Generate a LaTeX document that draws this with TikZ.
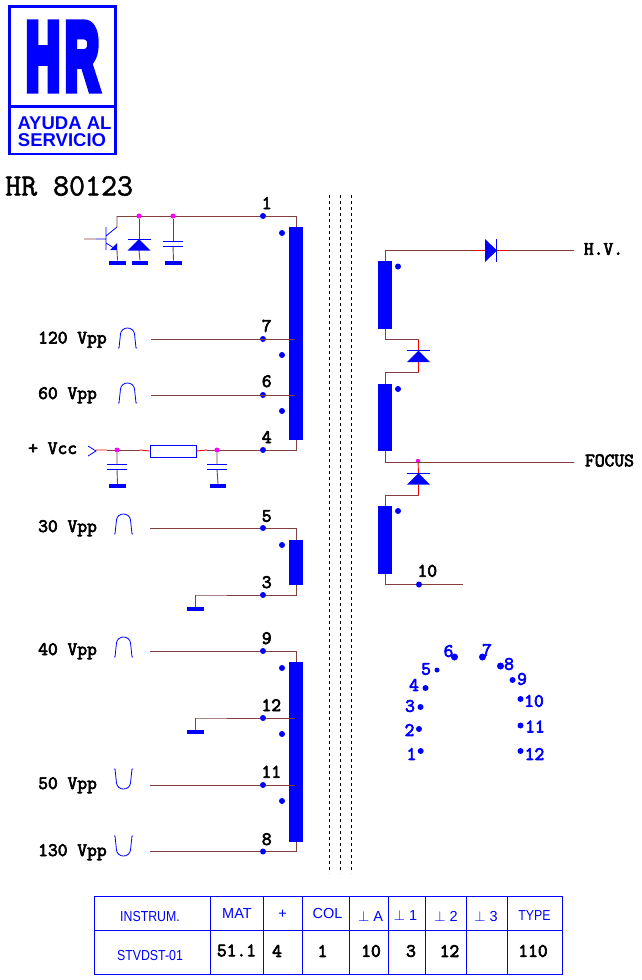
\documentclass[tikz,border=0pt]{standalone}
\usepackage{fontspec}
\setmainfont{Liberation Sans}
\newfontfamily\hrmono{Latin Modern Mono}[FakeBold=3.5]
\newfontfamily\hrtitle{Latin Modern Mono}[FakeBold=1.5]
\newfontfamily\hrlogo{Liberation Sans Bold}[FakeBold=10]
\definecolor{hrblue}{HTML}{0000FF}
\definecolor{hrwire}{HTML}{804040}
\definecolor{hrred}{HTML}{FF0000}
\definecolor{hrmag}{HTML}{FF00FF}
\tikzset{
  wire/.style={draw=hrwire,line width=.9pt},
  redwire/.style={draw=hrred,line width=.9pt},
  symb/.style={draw=hrblue,line width=.8pt},
  coil/.style={fill=hrblue,minimum width=14pt,inner sep=0pt,outer sep=0pt},
  gndbar/.style={fill=hrblue,minimum width=17pt,minimum height=4pt,inner sep=0pt,outer sep=0pt},
  pindot/.style={circle,fill=hrblue,minimum size=6pt,inner sep=0pt,outer sep=0pt},
  phdot/.style={circle,fill=hrblue,minimum size=6pt,inner sep=0pt,outer sep=0pt},
  magdot/.style={circle,fill=hrmag,minimum size=5pt,inner sep=0pt,outer sep=0pt},
  vlabel/.style={anchor=base west,inner sep=0pt,font=\hrmono\fontsize{19}{19}\selectfont},
  pinnum/.style={anchor=base,inner sep=0pt,font=\hrmono\fontsize{19}{19}\selectfont},
  sidetext/.style={inner sep=0pt,font=\hrmono\fontsize{19}{19}\selectfont},
  socknum/.style={inner sep=0pt,text=hrblue,font=\hrmono\fontsize{19}{19}\selectfont},
  headtext/.style={inner sep=0pt,text=hrblue,font=\fontsize{14.5}{14.5}\selectfont},
  valtext/.style={inner sep=0pt,font=\hrmono\fontsize{19}{19}\selectfont},
  tabline/.style={draw=hrblue,line width=1pt},
}
% pulse drawings, #1 is the lower left (up) or upper left (down) corner
\newcommand{\pulseup}[1]{\draw[symb,shift={(#1)}] (0,0)--(1,0)--(2.5,-14) .. controls (3.5,-22) and (15.5,-22) .. (16.5,-14)--(18,0)--(19,0);}
\newcommand{\pulsedown}[1]{\draw[symb,shift={(#1)}] (0,0)--(1,0)--(2.5,14) .. controls (3.5,22) and (15.5,22) .. (16.5,14)--(18,0)--(19,0);}
% capacitor plates round a vertical lead at #1, #2 is the top plate height
\newcommand{\capplates}[2]{\draw[symb] (#1-10,#2)--(#1+10,#2) (#1-10,#2+5)--(#1+10,#2+5);}
% diode pointing up, apex at (#1,#2)
\newcommand{\diodeup}[2]{\fill[hrblue] (#1,#2)--(#1+11.5,#2+11.5)--(#1-11.5,#2+11.5)--cycle;
  \draw[symb] (#1-11.5,#2)--(#1+11.5,#2);}
\begin{document}
\begin{tikzpicture}[x=1pt,y=-1pt]
\useasboundingbox (0,0) rectangle (642,980);
% logo
\draw[hrblue,line width=2.6pt] (9.3,6.3) rectangle (115.7,154);
\draw[hrblue,line width=2.6pt] (9.3,106.5)--(115.7,106.5);
\node[inner sep=0pt,text=hrblue,xscale=.5,font=\hrlogo\fontsize{94}{94}\selectfont] (logohr) at (62.5,56.5) {H\kern 10pt R};
\node[inner sep=0pt,text=hrblue,font=\bfseries\fontsize{18.5}{18.5}\selectfont] (logoa) at (64.5,122.8) {AYUDA AL};
\node[inner sep=0pt,text=hrblue,font=\bfseries\fontsize{18.5}{18.5}\selectfont] (logob) at (62,139.7) {SERVICIO};
\node[anchor=base west,inner sep=0pt,font=\hrtitle\fontsize{31}{31}\selectfont] (title) at (5,195.5) {HR 80123};
% coils
\node[coil,minimum height=213pt] (coilA) at (296,333.5) {};
\node[coil,minimum height=45pt] (coilB) at (296,562.5) {};
\node[coil,minimum height=180pt] (coilC) at (296,752) {};
\node[coil,minimum height=68pt] (coilD) at (385,295) {};
\node[coil,minimum height=67pt] (coilE) at (385,417.5) {};
\node[coil,minimum height=68pt] (coilF) at (385,540) {};
% coil phase dots
\node[pindot] (phA) at (282,233) {};
\node[pindot] (phB) at (282,355) {};
\node[pindot] (phC) at (282,411) {};
\node[pindot] (phD) at (282,545) {};
\node[pindot] (phE) at (282,668) {};
\node[pindot] (phF) at (282,734) {};
\node[pindot] (phG) at (282,801) {};
\node[pindot] (phH) at (398,266.5) {};
\node[pindot] (phI) at (398,389) {};
\node[pindot] (phJ) at (398,511) {};
% pins
\node[pindot] (pone) at (263,216) {};
\node[pindot] (pseven) at (263,339) {};
\node[pindot] (psix) at (263,395) {};
\node[pindot] (pfour) at (263,450) {};
\node[pindot] (pfive) at (263,528) {};
\node[pindot] (pthree) at (263,595) {};
\node[pindot] (pnine) at (263,651) {};
\node[pindot] (ptwelve) at (263,718) {};
\node[pindot] (peleven) at (263,785) {};
\node[pindot] (peight) at (263,851.5) {};
\node[pindot] (pten) at (419,584.5) {};
\node[pinnum] at (266.7,209) {1};
\node[pinnum] at (266.7,331.7) {7};
\node[pinnum] at (266.7,387) {6};
\node[pinnum] at (266.7,443) {4};
\node[pinnum] at (266.7,521.7) {5};
\node[pinnum] at (266.7,588) {3};
\node[pinnum] at (266.7,644) {9};
\node[pinnum] at (271.3,711) {12};
\node[pinnum] at (271.3,777.7) {11};
\node[pinnum] at (266.7,845) {8};
\node[pinnum] at (427.3,576.7) {10};
% left labels and pulses
\node[vlabel] at (38,343.5) {120 Vpp};
\node[vlabel] at (38,399) {60 Vpp};
\node[vlabel] at (28,454) {+ Vcc};
\node[vlabel] at (38,532) {30 Vpp};
\node[vlabel] at (38,655) {40 Vpp};
\node[vlabel] at (38,789) {50 Vpp};
\node[vlabel] at (38,856) {130 Vpp};
\pulseup{118,348}
\pulseup{118,403}
\pulseup{114,534}
\pulseup{114,657}
\pulsedown{114,769}
\pulsedown{114,836}
% free wire ends
\coordinate (inseven) at (151,339);
\coordinate (insix) at (151,395);
\coordinate (infive) at (150,528);
\coordinate (innine) at (150,651);
\coordinate (ineleven) at (150,785);
\coordinate (ineight) at (150,851.5);
\coordinate (gndthree) at (195,595);
\coordinate (gndtwelve) at (195,718);
\node[gndbar] (gthree) at (195.5,608.5) {};
\node[gndbar] (gtwelve) at (195.5,731.5) {};
% primary wires
\draw[wire] (117,216)--(pone)-|(coilA.north);
\draw[wire] (inseven)--(295,339);
\draw[wire] (insix)--(295,395);
\draw[wire] (107,450)--(140,450) (207,450)--(pfour)-|(coilA.south);
\draw[wire] (infive)--(pfive)-|(coilB.north);
\draw[wire] (gthree.north)|-(gndthree)--(pthree)-|(coilB.south);
\draw[wire] (innine)--(pnine)-|(coilC.north);
\draw[wire] (gtwelve.north)|-(gndtwelve)--(ptwelve)--(295,718);
\draw[wire] (ineleven)--(peleven)--(295,785);
\draw[wire] (ineight)--(peight)-|(coilC.south);
% transistor, diode and capacitor on pin 1
\node[magdot] (nodea) at (139,216) {};
\node[magdot] (nodeb) at (173,216) {};
\node[gndbar] (gt) at (117.5,262.5) {};
\node[gndbar,minimum width=16pt] (gd) at (140,262.5) {};
\node[gndbar] (gc) at (173.5,262.5) {};
\draw[wire] (84,239)--(96,239) (117,216)--(117,227) (117,250)--(gt.north);
\draw[symb] (96,239)--(106,239) (106,227)--(106,250) (106,236)--(117,227) (106,243)--(117,250);
\fill[hrblue] (117,243)--(117,250)--(110,250)--cycle;
\draw[redwire] (nodea)--(139,239);
\draw[wire] (139,250)--(gd.north);
\diodeup{139}{239}
\draw[redwire] (nodeb)--(173,241);
\draw[wire] (173,246)--(gc.north);
\capplates{173}{241}
% vcc branch
\node[draw=hrblue,line width=.9pt,fill=white,minimum width=46pt,minimum height=12pt,inner sep=0pt] (res) at (173,451) {};
\node[magdot] (nodec) at (117,450) {};
\node[magdot] (noded) at (217,450) {};
\node[gndbar] (gva) at (117.5,486) {};
\node[gndbar,minimum width=16pt] (gvb) at (218,486) {};
\draw[redwire] (96,450)--(107,450) (140,450)--(res.west) (res.east)--(207,450);
\draw[symb] (88,446)--(96,451)--(88,456);
\draw[wire] (nodec)--(117,464) (117,469)--(gva.north);
\draw[wire] (noded)--(217,464) (217,469)--(gvb.north);
\capplates{117}{464}
\capplates{217}{464}
% screens
\draw[black,line width=.8pt,dash pattern=on 3pt off 3pt] (329.5,195)--(329.5,873);
\draw[black,line width=.8pt,dash pattern=on 3pt off 3pt] (340.5,195)--(340.5,873);
\draw[black,line width=.8pt,dash pattern=on 3pt off 3pt] (351.5,195)--(351.5,873);
% secondary
\node[inner sep=0pt,sidetext] (hv) at (603.5,249) {H.V.};
\node[inner sep=0pt,sidetext] (focus) at (609.5,460.5) {FOCUS};
\coordinate (hvend) at (574,250.5);
\coordinate (focusend) at (574,462.5);
\coordinate (tenend) at (463,584.5);
\node[magdot,minimum size=4.5pt] (nodef) at (418,461) {};
\draw[wire] (coilD.north)|-(473,250.5) (507,250.5)--(hvend);
\draw[redwire] (473,250.5)--(485,250.5) (497,250.5)--(507,250.5);
\fill[hrblue] (485,239)--(497,250.5)--(485,262)--cycle;
\draw[symb] (496.5,239)--(496.5,262);
\draw[wire] (coilD.south)|-(418.5,339.5);
\draw[redwire] (418.5,339.5)--(418.5,350.5) (418.5,362)--(418.5,372);
\diodeup{418.5}{350.5}
\draw[wire] (418.5,372)-|(coilE.north);
\draw[wire] (coilE.south)|-(focusend);
\draw[redwire] (nodef)--(418.5,473) (418.5,484.5)--(418.5,495);
\diodeup{418.5}{473}
\draw[wire] (418.5,495)-|(coilF.north);
\draw[wire] (coilF.south)|-(pten)--(tenend);
% socket
\node[phdot] (sa) at (420.7,751) {};
\node[phdot] (sb) at (419,729) {};
\node[phdot] (sc) at (420.5,707) {};
\node[phdot] (sd) at (425.5,688) {};
\node[phdot,minimum size=5pt] (se) at (437,670) {};
\node[phdot,minimum size=7pt] (sf) at (454.5,657) {};
\node[phdot,minimum size=7pt] (sg) at (482.5,657) {};
\node[phdot,minimum size=7pt] (sh) at (500.5,666) {};
\node[phdot] (si) at (512.5,680) {};
\node[phdot] (sj) at (520.5,699) {};
\node[phdot] (sk) at (520.5,725.5) {};
\node[phdot] (sl) at (520.5,751) {};
\node[socknum] at (411.5,754) {1};
\node[socknum] at (409.5,730) {2};
\node[socknum] at (410,706) {3};
\node[socknum] at (414,685) {4};
\node[socknum] at (426,669) {5};
\node[socknum] at (448.5,651) {6};
\node[socknum] at (487,650) {7};
\node[socknum] at (509,664) {8};
\node[socknum] at (522,679) {9};
\node[socknum] at (534,701) {10};
\node[socknum] at (535,726.5) {11};
\node[socknum] at (534.5,754) {12};
% table
\draw[tabline] (94.5,896.5) rectangle (562.5,974.5);
\draw[tabline] (94.5,930.5)--(562.5,930.5);
\draw[tabline] (210.7,896.5)--(210.7,974.5);
\draw[tabline] (263.3,896.5)--(263.3,974.5);
\draw[tabline] (302.3,896.5)--(302.3,974.5);
\draw[tabline] (349.3,896.5)--(349.3,974.5);
\draw[tabline] (388.3,896.5)--(388.3,974.5);
\draw[tabline] (425.3,896.5)--(425.3,974.5);
\draw[tabline] (466.3,896.5)--(466.3,974.5);
\draw[tabline] (507.3,896.5)--(507.3,974.5);
\node[headtext,xscale=.85] at (150,916) {INSTRUM.};
\node[headtext] at (237,914) {MAT};
\node[headtext] at (282.5,914) {+};
\node[headtext] at (327.5,913.5) {COL};
\node[headtext] at (370.5,916) {$\perp$ A};
\node[headtext] at (405.5,915) {$\perp$ 1};
\node[headtext] at (446,916) {$\perp$ 2};
\node[headtext] at (486,916) {$\perp$ 3};
\node[headtext,xscale=.85] at (534.5,916) {TYPE};
\node[headtext,xscale=.85] at (150,955) {STVDST-01};
\node[valtext] at (236.5,950.5) {51.1};
\node[valtext] at (277,951) {4};
\node[valtext] at (322.5,951) {1};
\node[valtext] at (371,951) {10};
\node[valtext] at (411,951) {3};
\node[valtext] at (449.5,951) {12};
\node[valtext] at (533,951) {110};
\end{tikzpicture}
\end{document}
